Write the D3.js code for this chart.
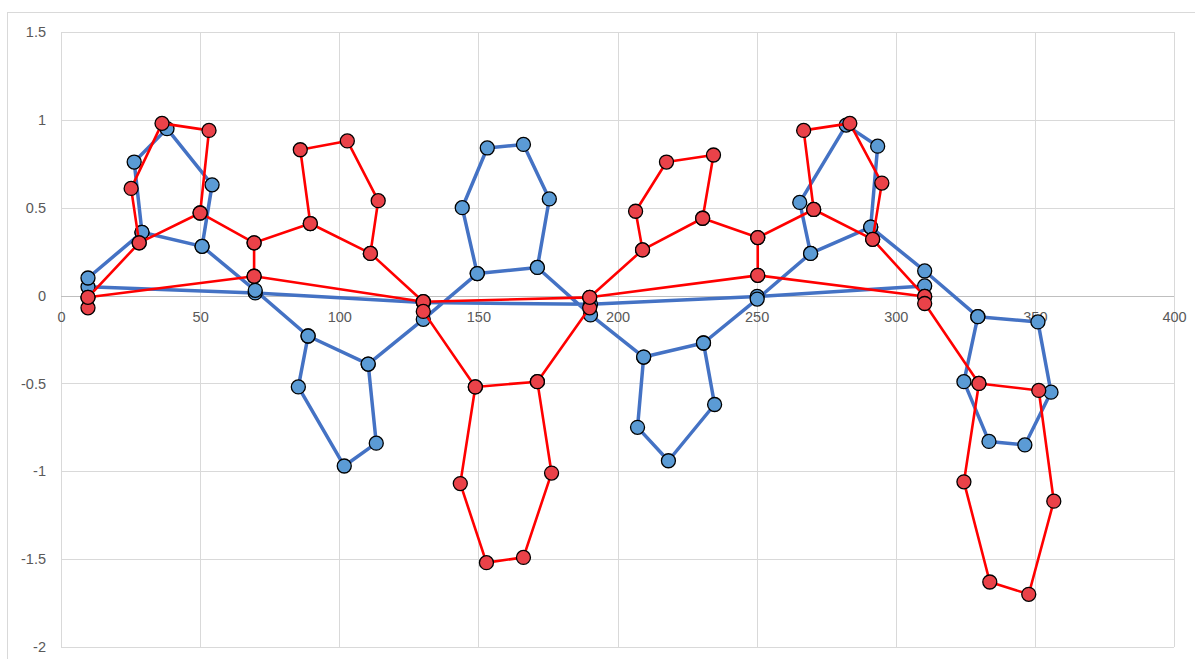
<!DOCTYPE html>
<html>
<head>
<meta charset="utf-8">
<script src="https://cdn.jsdelivr.net/npm/d3@7"></script>
<style>
  html, body { margin: 0; padding: 0; background: #ffffff; }
  svg { display: block; }
  .tick text { font-family: "Liberation Sans", Arial, sans-serif; font-size: 14.5px; fill: #595959; }
</style>
</head>
<body>
<svg id="chart" width="1195" height="659"></svg>
<script>
// Series 1 (blue): points in drawing order
const blueX = [310.4, 250.2, 190.3, 130.2, 69.8, 9.7, 9.7, 29.1, 26.3, 38.1, 54.3, 50.7, 29.1, 50.7, 69.8,
  88.8, 85.3, 101.8, 113.3, 110.4, 88.8, 110.4, 130.2, 149.6, 144.2, 153.2, 166.2, 175.5, 171.2, 149.6, 171.2,
  190.3, 209.4, 207.2, 218.3, 234.9, 230.9, 209.4, 230.9, 250.2, 269.4, 265.5, 282.2, 293.5, 291.0, 269.4, 291.0,
  310.4, 329.5, 351.1, 355.8, 346.4, 333.5, 324.5, 329.5];
const blueY = [0.055, -0.005, -0.05, -0.04, 0.015, 0.05, 0.10, 0.36, 0.76, 0.95, 0.63, 0.28, 0.36, 0.28, 0.03,
  -0.23, -0.52, -0.97, -0.84, -0.39, -0.23, -0.39, -0.135, 0.125, 0.50, 0.84, 0.86, 0.55, 0.16, 0.125, 0.16,
  -0.11, -0.35, -0.75, -0.94, -0.62, -0.27, -0.35, -0.27, -0.02, 0.24, 0.53, 0.97, 0.85, 0.39, 0.24, 0.39,
  0.14, -0.12, -0.15, -0.55, -0.85, -0.83, -0.49, -0.12];

// Series 2 (red): points in drawing order
const redX = [310.4, 250.4, 190.0, 130.2, 69.4, 9.7, 9.7, 9.7, 28.1, 25.2, 36.3, 53.2, 50.0, 28.1, 50.0,
  69.4, 69.4, 69.4, 89.6, 86.0, 102.9, 114.0, 111.2, 89.6, 111.2, 130.2, 130.2, 148.9, 143.5, 152.9, 166.2,
  176.3, 171.2, 148.9, 171.2, 190.0, 190.0, 209.0, 206.5, 217.6, 234.5, 230.6, 209.0, 230.6, 250.4, 250.4,
  250.4, 270.5, 266.9, 283.5, 295.0, 291.7, 270.5, 291.7, 310.4, 310.4, 329.9, 351.4, 356.8, 347.8, 333.8,
  324.5, 329.9];
const redY = [-0.005, 0.115, -0.01, -0.035, 0.11, -0.01, -0.07, -0.01, 0.30, 0.61, 0.98, 0.94, 0.47, 0.30, 0.47,
  0.30, 0.11, 0.30, 0.41, 0.83, 0.88, 0.54, 0.24, 0.41, 0.24, -0.035, -0.09, -0.52, -1.07, -1.52, -1.49,
  -1.01, -0.49, -0.52, -0.49, -0.07, -0.01, 0.26, 0.48, 0.76, 0.80, 0.44, 0.26, 0.44, 0.33, 0.115,
  0.33, 0.49, 0.94, 0.98, 0.64, 0.32, 0.49, 0.32, -0.005, -0.045, -0.50, -0.54, -1.17, -1.70, -1.63,
  -1.06, -0.50];

// Axis ticks
const xTicks = [0, 50, 100, 150, 200, 250, 300, 350, 400];
const yTicks = [-2, -1.5, -1, -0.5, 0, 0.5, 1, 1.5];

const svg = d3.select("#chart");
const plot = { left: 61, right: 1174, top: 32, bottom: 647 };

const x = d3.scaleLinear().domain([0, 400]).range([plot.left, plot.right]);
const y = d3.scaleLinear().domain([-2, 1.5]).range([plot.bottom, plot.top]);

// Outer chart frame
svg.append("rect")
  .attr("x", 7.5).attr("y", 12.5)
  .attr("width", 1200).attr("height", 660)
  .attr("fill", "none").attr("stroke", "#d9d9d9").attr("stroke-width", 1);

// Gridlines
const grid = svg.append("g").attr("shape-rendering", "crispEdges");
grid.selectAll("line.vx").data(xTicks).join("line")
  .attr("x1", d => Math.round(x(d)) + 0.5).attr("x2", d => Math.round(x(d)) + 0.5)
  .attr("y1", plot.top).attr("y2", plot.bottom)
  .attr("stroke", "#d9d9d9").attr("stroke-width", 1);
grid.selectAll("line.hy").data(yTicks).join("line")
  .attr("y1", d => Math.round(y(d)) + 0.5).attr("y2", d => Math.round(y(d)) + 0.5)
  .attr("x1", plot.left).attr("x2", plot.right)
  .attr("stroke", "#d9d9d9").attr("stroke-width", 1);

// Horizontal axis line at y = 0
svg.append("line")
  .attr("x1", plot.left).attr("x2", plot.right)
  .attr("y1", Math.round(y(0)) + 0.5).attr("y2", Math.round(y(0)) + 0.5)
  .attr("stroke", "#bfbfbf").attr("stroke-width", 1)
  .attr("shape-rendering", "crispEdges");

// Axis labels
const xAxis = d3.axisBottom(x).tickValues(xTicks).tickSize(0).tickPadding(16).tickFormat(d3.format("d"));
svg.append("g").attr("transform", `translate(0,${y(0)})`).call(xAxis)
  .call(g => g.select(".domain").remove());

const yAxis = d3.axisLeft(y).tickValues(yTicks).tickSize(0).tickPadding(15).tickFormat(d => String(d));
svg.append("g").attr("transform", `translate(${plot.left},0)`).call(yAxis)
  .call(g => g.select(".domain").remove());

// Series drawing: line first, then markers
const series = [
  { xs: blueX, ys: blueY, line: "#4472c4", lineWidth: 3.5, fill: "#5b9bd5" },
  { xs: redX, ys: redY, line: "#ff0000", lineWidth: 2.6, fill: "#ea4249" }
];

const lineGen = d3.line().x(d => x(d[0])).y(d => y(d[1]));

series.forEach(s => {
  const pts = s.xs.map((v, i) => [v, s.ys[i]]);
  const g = svg.append("g");
  g.append("path")
    .attr("d", lineGen(pts))
    .attr("fill", "none")
    .attr("stroke", s.line)
    .attr("stroke-width", s.lineWidth)
    .attr("stroke-linejoin", "round")
    .attr("stroke-linecap", "round");
  g.selectAll("circle").data(pts).join("circle")
    .attr("cx", d => x(d[0]))
    .attr("cy", d => y(d[1]))
    .attr("r", 7)
    .attr("fill", s.fill)
    .attr("stroke", "#000000")
    .attr("stroke-width", 1.3);
});
</script>
</body>
</html>
